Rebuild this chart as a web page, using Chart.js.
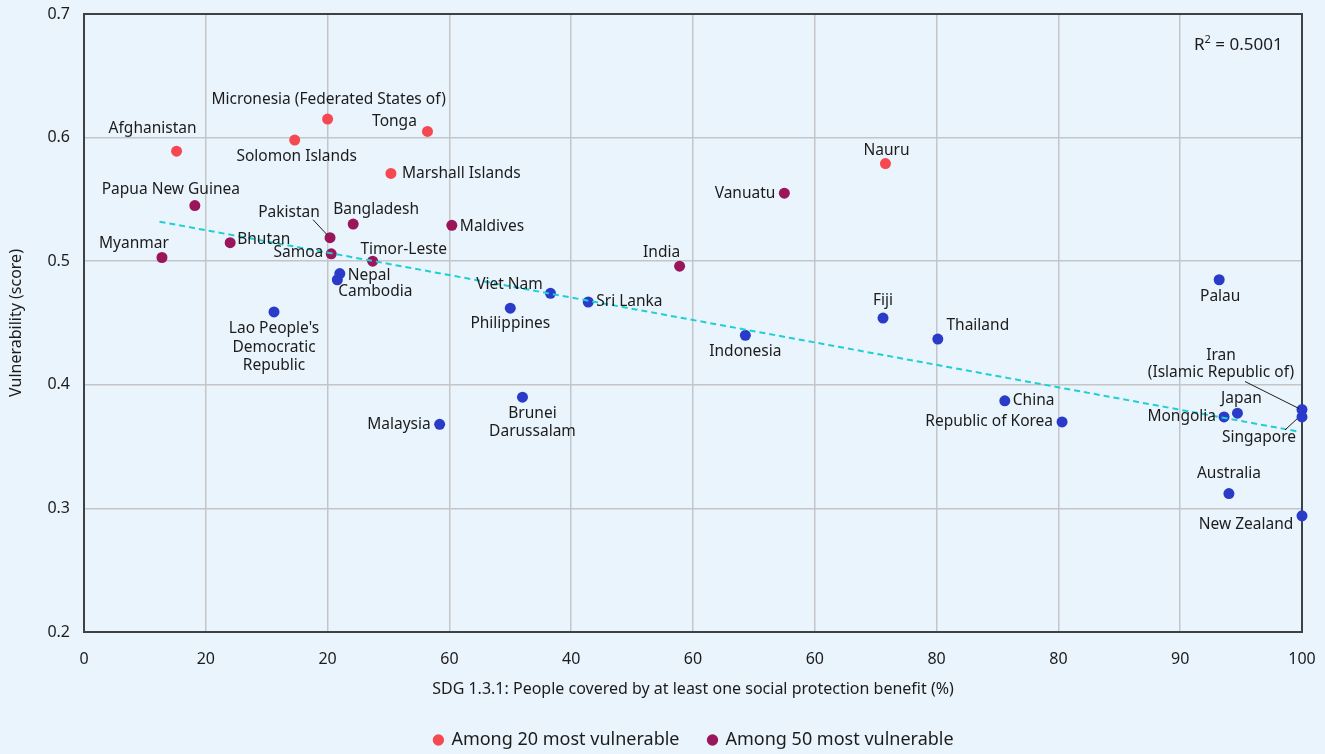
<!DOCTYPE html>
<html>
<head>
<meta charset="utf-8">
<script src="https://cdn.jsdelivr.net/npm/chart.js@4.4.1/dist/chart.umd.min.js"></script>
<style>
  html, body { margin: 0; padding: 0; background: #eaf4fc; }
  canvas { display: block; }
</style>
</head>
<body>
<canvas id="chart" width="1325" height="754"></canvas>
<script>
// Among 20 most vulnerable
const top20Names = ['Afghanistan', 'Micronesia (Federated States of)', 'Solomon Islands', 'Tonga', 'Marshall Islands', 'Nauru'];
const top20Coverage = [7.6, 20.0, 17.3, 28.2, 25.2, 65.8];
const top20Score = [0.589, 0.615, 0.598, 0.605, 0.571, 0.579];

// Among 50 most vulnerable
const top50Names = ['Papua New Guinea', 'Myanmar', 'Bhutan', 'Pakistan', 'Samoa', 'Bangladesh', 'Timor-Leste', 'Maldives', 'India', 'Vanuatu'];
const top50Coverage = [9.1, 6.4, 12.0, 20.2, 20.3, 22.1, 23.7, 30.2, 48.9, 57.5];
const top50Score = [0.545, 0.503, 0.515, 0.519, 0.506, 0.530, 0.500, 0.529, 0.496, 0.555];

// Other countries in the region
const otherNames = ['Nepal', 'Cambodia', "Lao People's Democratic Republic", 'Viet Nam', 'Philippines', 'Sri Lanka',
  'Brunei Darussalam', 'Malaysia', 'Indonesia', 'Fiji', 'Thailand', 'China', 'Republic of Korea', 'Palau',
  'Iran (Islamic Republic of)', 'Singapore', 'Japan', 'Mongolia', 'Australia', 'New Zealand'];
const otherCoverage = [21.0, 20.8, 15.6, 38.3, 35.0, 41.4, 36.0, 29.2, 54.3, 65.6, 70.1, 75.6, 80.3, 93.2, 100, 100, 94.7, 93.6, 94.0, 100];
const otherScore = [0.490, 0.485, 0.459, 0.474, 0.462, 0.467, 0.390, 0.368, 0.440, 0.454, 0.437, 0.387, 0.370, 0.485, 0.380, 0.374, 0.377, 0.374, 0.312, 0.294];

// Linear trend
const trendCoverage = [6.2, 99.8];
const trendScore = [0.532, 0.362];
const rSquared = '0.5001';

const xTickLabels = ['0', '20', '20', '60', '40', '60', '60', '80', '80', '90', '100'];
const legendLabels = ['Among 20 most vulnerable', 'Among 50 most vulnerable'];

// where each country label goes, relative to its dot (px)
const placements = {
  'Afghanistan': { dx: -24, dy: -23 },
  'Micronesia (Federated States of)': { dx: 1, dy: -19 },
  'Solomon Islands': { dx: 2, dy: 17 },
  'Tonga': { dx: -33, dy: -10 },
  'Marshall Islands': { dx: 11, dy: 0, align: 'left' },
  'Nauru': { dx: 1, dy: -13 },
  'Papua New Guinea': { dx: -24, dy: -16 },
  'Myanmar': { dx: -28, dy: -14 },
  'Bhutan': { dx: 7, dy: -3, align: 'left' },
  'Pakistan': { dx: -41, dy: -25, leader: [-17, -18, -3, -3] },
  'Samoa': { dx: -8, dy: -1, align: 'right' },
  'Bangladesh': { dx: 23, dy: -15 },
  'Timor-Leste': { dx: 31, dy: -12 },
  'Maldives': { dx: 8, dy: 1, align: 'left' },
  'India': { dx: -18, dy: -14 },
  'Vanuatu': { dx: -9, dy: 0, align: 'right' },
  'Nepal': { dx: 8, dy: 2, align: 'left' },
  'Cambodia': { dx: 38, dy: 12 },
  "Lao People's Democratic Republic": { dx: 0, dy: 17, lines: ["Lao People's", 'Democratic', 'Republic'], lh: 18.5 },
  'Viet Nam': { dx: -41, dy: -9 },
  'Philippines': { dx: 0, dy: 15 },
  'Sri Lanka': { dx: 8, dy: 0, align: 'left' },
  'Brunei Darussalam': { dx: 10, dy: 16, lines: ['Brunei', 'Darussalam'], lh: 18 },
  'Malaysia': { dx: -9, dy: 0, align: 'right' },
  'Indonesia': { dx: 0, dy: 16 },
  'Fiji': { dx: 0, dy: -17 },
  'Thailand': { dx: 40, dy: -13 },
  'China': { dx: 8, dy: 0, align: 'left' },
  'Republic of Korea': { dx: -9, dy: 0, align: 'right' },
  'Palau': { dx: 1, dy: 17 },
  'Iran (Islamic Republic of)': { dx: -81, dy: -54, lines: ['Iran', '(Islamic Republic of)'], lh: 17, leader: [-57, -28, -3, -1] },
  'Singapore': { dx: -43, dy: 21, leader: [-17, 13, -5, 2] },
  'Japan': { dx: 4, dy: -15 },
  'Mongolia': { dx: -8, dy: 0, align: 'right' },
  'Australia': { dx: 0, dy: -20 },
  'New Zealand': { dx: -56, dy: 9 }
};

const RED = '#f54850';
const PURPLE = '#9a1559';
const BLUE = '#2a3bc9';
const TREND = '#1fcfd3';
const FONT = '"Noto Sans", "Open Sans", sans-serif';

function pts(xs, ys) {
  return xs.map((x, i) => ({ x: x, y: ys[i] }));
}

const bgPlugin = {
  id: 'bg',
  afterLayout(chart) {
    // legend sits centred under the plot area, not the whole canvas
    chart.legend.left += 43;
    chart.legend.right += 43;
  },
  beforeDraw(chart) {
    const ctx = chart.ctx;
    ctx.save();
    ctx.fillStyle = '#eaf4fc';
    ctx.fillRect(0, 0, chart.width, chart.height);
    ctx.restore();
  },
  beforeDatasetsDraw(chart) {
    const a = chart.chartArea;
    const ctx = chart.ctx;
    ctx.save();
    ctx.strokeStyle = '#3f4244';
    ctx.lineWidth = 2;
    ctx.strokeRect(a.left, a.top, a.right - a.left, a.bottom - a.top);
    ctx.restore();
  }
};

const labelPlugin = {
  id: 'countryLabels',
  afterDatasetsDraw(chart) {
    const ctx = chart.ctx;
    ctx.save();
    ctx.font = '15.5px ' + FONT;
    ctx.fillStyle = '#1c1c1c';
    ctx.textBaseline = 'middle';
    chart.data.datasets.forEach((ds, di) => {
      if (!ds.names) return;
      const meta = chart.getDatasetMeta(di);
      meta.data.forEach((pt, i) => {
        const name = ds.names[i];
        const p = placements[name] || { dx: 0, dy: -15 };
        const lines = p.lines || [name];
        ctx.textAlign = p.align || 'center';
        lines.forEach((line, k) => {
          ctx.fillText(line, pt.x + p.dx, pt.y + p.dy + k * (p.lh || 18));
        });
        if (p.leader) {
          ctx.beginPath();
          ctx.strokeStyle = '#1c1c1c';
          ctx.lineWidth = 1;
          ctx.moveTo(pt.x + p.leader[0], pt.y + p.leader[1]);
          ctx.lineTo(pt.x + p.leader[2], pt.y + p.leader[3]);
          ctx.stroke();
        }
      });
    });
    // R squared note
    const a = chart.chartArea;
    const x0 = a.right - 108, y0 = a.top + 31;
    ctx.textAlign = 'left';
    ctx.font = '17px ' + FONT;
    ctx.fillText('R', x0, y0);
    const rw = ctx.measureText('R').width;
    ctx.font = '11px ' + FONT;
    ctx.fillText('2', x0 + rw, y0 - 5);
    const sw = ctx.measureText('2').width;
    ctx.font = '17px ' + FONT;
    ctx.fillText(' = ' + rSquared, x0 + rw + sw, y0);
    ctx.restore();
  }
};

new Chart(document.getElementById('chart'), {
  type: 'scatter',
  data: {
    datasets: [
      { label: legendLabels[0], names: top20Names, data: pts(top20Coverage, top20Score),
        backgroundColor: RED, borderColor: RED, pointRadius: 5.5, borderWidth: 0, clip: false },
      { label: legendLabels[1], names: top50Names, data: pts(top50Coverage, top50Score),
        backgroundColor: PURPLE, borderColor: PURPLE, pointRadius: 5.5, borderWidth: 0, clip: false },
      { label: 'Other', names: otherNames, data: pts(otherCoverage, otherScore),
        backgroundColor: BLUE, borderColor: BLUE, pointRadius: 5.5, borderWidth: 0, clip: false },
      { label: 'Trend', type: 'line', data: pts(trendCoverage, trendScore), order: -1,
        borderColor: TREND, borderWidth: 2, borderDash: [6, 4], pointRadius: 0, fill: false, clip: false }
    ]
  },
  options: {
    responsive: false,
    devicePixelRatio: 1,
    animation: false,
    events: [],
    layout: { padding: { top: 14, right: 23, bottom: -5, left: 0 } },
    plugins: {
      tooltip: { enabled: false },
      legend: {
        position: 'bottom',
        labels: {
          usePointStyle: true,
          pointStyle: 'circle',
          boxWidth: 8,
          boxHeight: 8,
          padding: 29,
          color: '#1c1c1c',
          font: { family: FONT, size: 18 },
          filter: item => item.datasetIndex < 2
        }
      }
    },
    scales: {
      x: {
        type: 'linear',
        min: 0,
        max: 100,
        afterFit: s => { s.height = 70; s.paddingLeft = 0; s.paddingRight = 0; },
        border: { display: false },
        grid: { color: '#c3c5c7', lineWidth: 1.5, drawTicks: false },
        ticks: {
          stepSize: 10,
          autoSkip: false,
          maxRotation: 0,
          padding: 18,
          color: '#1c1c1c',
          font: { family: FONT, size: 16 },
          callback: (v, i) => xTickLabels[i]
        },
        title: {
          display: true,
          text: 'SDG 1.3.1: People covered by at least one social protection benefit (%)',
          color: '#1c1c1c',
          font: { family: FONT, size: 16 },
          padding: { top: 0, bottom: 3 }
        }
      },
      y: {
        min: 0.2,
        max: 0.7,
        afterFit: s => { s.width = 84; s.paddingTop = 0; s.paddingBottom = 0; },
        border: { display: false },
        grid: { color: '#c3c5c7', lineWidth: 1.5, drawTicks: false },
        ticks: {
          stepSize: 0.1,
          padding: 14,
          color: '#1c1c1c',
          font: { family: FONT, size: 16 },
          callback: v => v.toFixed(1)
        },
        title: {
          display: true,
          text: 'Vulnerability (score)',
          color: '#1c1c1c',
          font: { family: FONT, size: 16 },
          padding: { top: 7, bottom: 0 }
        }
      }
    }
  },
  plugins: [bgPlugin, labelPlugin]
});
</script>
</body>
</html>
